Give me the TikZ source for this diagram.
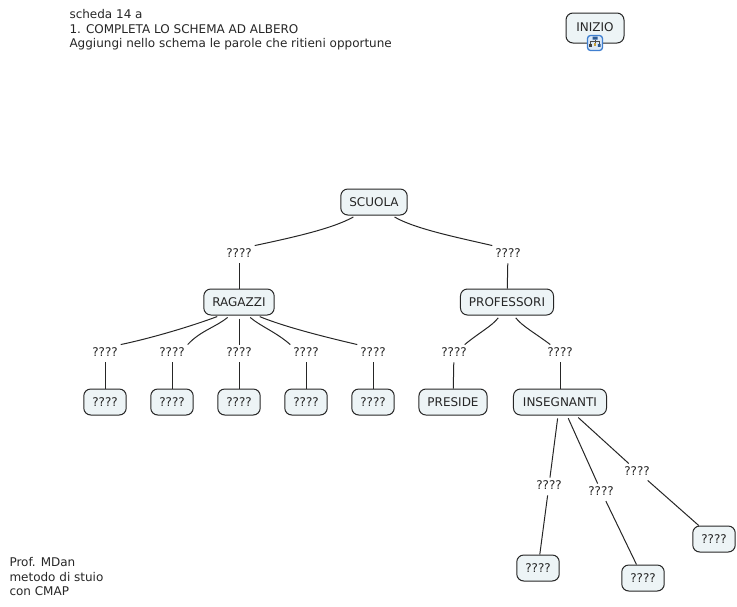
\documentclass[tikz,border=0pt]{standalone}
\usepackage{fontspec}
\setmainfont{DejaVu Sans}
\usetikzlibrary{arrows.meta,positioning}
\definecolor{boxfill}{HTML}{EDF4F6}
\definecolor{iconblue}{HTML}{3F7FD0}
\definecolor{iconback}{HTML}{DCE9F8}
\definecolor{icongold}{HTML}{C9A13B}
\begin{document}
\begin{tikzpicture}[x=1pt, y=-1pt, line width=1pt,
 concept/.style={draw=black!85, rounded corners=7pt, minimum height=26pt, inner xsep=8.5pt, inner ysep=0pt, fill=boxfill, font=\fontsize{12}{12}\selectfont, text=black!85},
 linker/.style={font=\fontsize{12}{12}\selectfont, text=black!85, inner xsep=1pt, inner ysep=1pt, outer sep=2pt},
 note/.style={font=\fontsize{12}{14.5}\selectfont, text=black!85, align=left, anchor=north west, inner sep=0pt},
 link/.style={draw=black!85, shorten <=3pt}]
\useasboundingbox (0,0) rectangle (737,606);
\node[note] (title) at (69,9) {scheda 14 a\\1. COMPLETA LO SCHEMA AD ALBERO\\Aggiungi nello schema le parole che ritieni opportune};
\node[note] (credits) at (9,557) {Prof. MDan\\metodo di stuio\\con CMAP};
\node[concept, minimum width=58pt, minimum height=30pt] (inizio) at (595,28) {\raisebox{2pt}{INIZIO}};
\node[draw=iconblue, line width=1.3pt, fill=iconback, rounded corners=3pt, minimum size=15pt, inner sep=0pt] (icon) at (595,43) {};
\draw[black!70, line width=.6pt] (595,39.5) -- (595,43) (590.7,44) -- (590.7,41.5) -- (599.2,41.5) -- (599.2,44);
\fill[iconblue!70!black] (592.5,36.5) rectangle (597.5,39.5) (597.8,44) rectangle (600.6,46.8);
\fill[icongold] (593.8,43) rectangle (596.3,45.5);
\fill[black!75] (589.4,44) rectangle (592,46.8);
% main nodes
\node[concept] (scuola) at (374,202) {SCUOLA};
\node[concept] (ragazzi) at (239,302) {RAGAZZI};
\node[concept] (professori) at (507,302) {PROFESSORI};
\node[concept] (preside) at (453,402) {PRESIDE};
\node[concept, inner xsep=9.5pt] (insegnanti) at (560,402) {INSEGNANTI};
\foreach \name/\x/\y in {r1/105/402, r2/172/402, r3/239/402, r4/306/402, r5/373/402, i1/538/568, i2/643/578, i3/714/539} {
  \node[concept] (\name) at (\x,\y) {????};
}
% linking phrases
\foreach \name/\x/\y in {l1/239/253, l2/508/253, lr1/105/352, lr2/172/352, lr3/239/352, lr4/306/352, lr5/373/352, lp1/454/352, lp2/560/352, li1/549/485, li2/601/491, li3/637/471} {
  \node[linker] (\name) at (\x,\y) {????};
}
\draw[link] ([xshift=-18pt]scuola.south) .. controls (332,229) and (290,238) .. (l1.north east);
\draw[link] ([xshift=18pt]scuola.south) .. controls (415,229) and (460,238) .. (l2.north west);
\draw[link] (l1) -- (ragazzi);
\draw[link] (l2) -- (professori);
\draw[link] ([xshift=-19pt]ragazzi.south) .. controls (192,326) and (152,338) .. (lr1.north east);
\draw[link] ([xshift=-9pt]ragazzi.south) .. controls (216,327) and (200,331) .. (lr2.north east);
\draw[link] (ragazzi) -- (lr3);
\draw[link] ([xshift=9pt]ragazzi.south) .. controls (260,326) and (276,332) .. (lr4.north west);
\draw[link] ([xshift=18pt]ragazzi.south) .. controls (285,327) and (325,337) .. (lr5.north west);
\foreach \i in {1,2,3,4,5} {
  \draw[link] (lr\i) -- (r\i);
}
\draw[link] ([xshift=-7pt]professori.south) .. controls (492,326) and (480,332) .. ([xshift=-5pt]lp1.north east);
\draw[link] ([xshift=7pt]professori.south) .. controls (522,326) and (535,333) .. ([xshift=6pt]lp2.north west);
\draw[link] (lp1) -- (preside);
\draw[link] (lp2) -- (insegnanti);
\draw[link] ([xshift=-2pt]insegnanti.south) -- (li1);
\draw[link] ([xshift=7pt]insegnanti.south) -- (li2);
\draw[link] ([xshift=16pt]insegnanti.south) -- (li3);
\draw[link] (li1) -- (i1);
\draw[link] (li2) -- (i2);
\draw[link] (li3) -- (i3);
\end{tikzpicture}
\end{document}
